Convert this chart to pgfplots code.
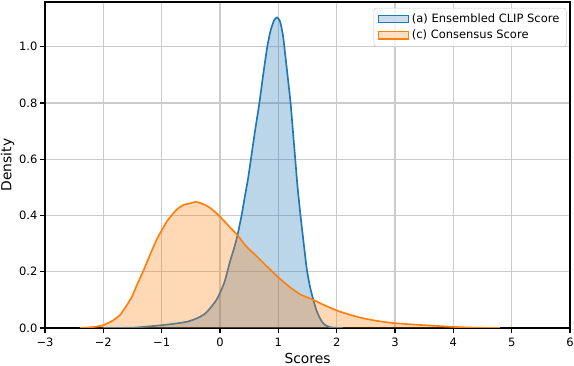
\documentclass[border=0pt]{standalone}
\usepackage{pgfplots}
\pgfplotsset{compat=1.18}
\usepackage{fontspec}
\setmainfont{DejaVu Sans}
\definecolor{cA}{HTML}{1F77B4}
\definecolor{cB}{HTML}{FF7F0E}
\definecolor{gridc}{HTML}{CBCBCB}
\definecolor{legc}{HTML}{CCCCCC}
\pgfplotstableread{
x y
-2.0 0
-1.5 0.001
-1.25 0.005
-1.0 0.010
-0.75 0.016
-0.57 0.022
-0.45 0.030
-0.34 0.040
-0.25 0.052
-0.17 0.070
-0.06 0.100
0.0 0.125
0.08 0.165
0.17 0.235
0.25 0.29
0.30 0.33
0.37 0.40
0.42 0.46
0.48 0.53
0.53 0.60
0.60 0.70
0.675 0.80
0.74 0.90
0.81 1.00
0.87 1.06
0.93 1.095
0.98 1.104
1.03 1.09
1.08 1.04
1.13 0.95
1.21 0.80
1.25 0.70
1.29 0.60
1.33 0.50
1.38 0.40
1.43 0.31
1.49 0.206
1.55 0.14
1.60 0.10
1.65 0.065
1.70 0.04
1.75 0.022
1.80 0.011
1.87 0.004
1.95 0.001
2.1 0
}\clipdata
\pgfplotstableread{
x y
-2.4 0
-2.3 0.001
-2.15 0.004
-2.0 0.010
-1.85 0.025
-1.715 0.046
-1.6 0.08
-1.51 0.111
-1.42 0.155
-1.32 0.20
-1.23 0.245
-1.14 0.289
-1.06 0.325
-0.98 0.354
-0.90 0.382
-0.80 0.408
-0.72 0.425
-0.63 0.437
-0.52 0.443
-0.42 0.448
-0.33 0.444
-0.25 0.437
-0.17 0.427
-0.08 0.412
0.0 0.396
0.15 0.363
0.30 0.33
0.45 0.29
0.63 0.255
0.80 0.22
1.0 0.18
1.2 0.145
1.37 0.12
1.6 0.10
1.8 0.08
2.06 0.058
2.4 0.037
2.7 0.025
3.0 0.017
3.5 0.01
4.0 0.004
4.4 0.001
4.8 0.0
}\consdata
\begin{document}
\begin{tikzpicture}
\begin{axis}[
  scale only axis,
  width=378bp, height=234.72bp,
  xmin=-3, xmax=6, ymin=0, ymax=1.159,
  xtick={-3,-2,-1,0,1,2,3,4,5,6},
  xticklabels={−3,−2,−1,0,1,2,3,4,5,6},
  ytick={0,0.2,0.4,0.6,0.8,1.0},
  yticklabel style={/pgf/number format/fixed,/pgf/number format/fixed zerofill,/pgf/number format/precision=1, xshift=1.5bp},
  /pgf/number format/assume math mode=true,
  ticklabel style={font=\fontsize{8.3}{10}\selectfont},
  tick align=outside,
  xtick pos=bottom, ytick pos=left,
  major tick length=3.5bp,
  tick style={black, line width=0.8bp},
  axis line style={black, line width=0.8bp},
  grid=major,
  major grid style={gridc, line width=0.8bp},
  xlabel={Scores}, ylabel={Density},
  label style={font=\fontsize{10}{12}\selectfont},
  xlabel style={at={(axis description cs:0.5,0)}, anchor=base, yshift=-25.2bp},
  ylabel style={at={(axis description cs:-0.0714,0.5)}, anchor=center},
  legend style={at={(0.9935,0.982)}, anchor=north east, draw=legc, rounded corners=2bp, fill=white, fill opacity=0.8, text opacity=1, font=\fontsize{8.3}{10}\selectfont, row sep=0bp, inner xsep=3bp, inner ysep=2bp},
  legend cell align=left,
]
\addplot[fill=cA, fill opacity=0.3, draw=none, forget plot] table {\clipdata} \closedcycle;
\addplot[cA, line width=1.2bp, smooth, tension=0.3, forget plot] table {\clipdata};
\addplot[fill=cB, fill opacity=0.3, draw=none, forget plot] table {\consdata} \closedcycle;
\addplot[cB, line width=1.2bp, smooth, tension=0.3, forget plot] table {\consdata};
\addlegendimage{legend image code/.code={\draw[draw=cA, fill=cA!30, line width=0.8bp, sharp corners] (-5.6bp,-2.6bp) rectangle (16bp,2.6bp);}}
\addlegendentry{(a) Ensembled CLIP Score}
\addlegendimage{legend image code/.code={\draw[draw=cB, fill=cB!30, line width=0.8bp, sharp corners] (-5.6bp,-2.6bp) rectangle (16bp,2.6bp);}}
\addlegendentry{(c) Consensus Score}
\end{axis}
\pgfresetboundingbox
\path (-32.4bp,-27.36bp) rectangle (380.88bp,236.16bp);
\end{tikzpicture}
\end{document}
